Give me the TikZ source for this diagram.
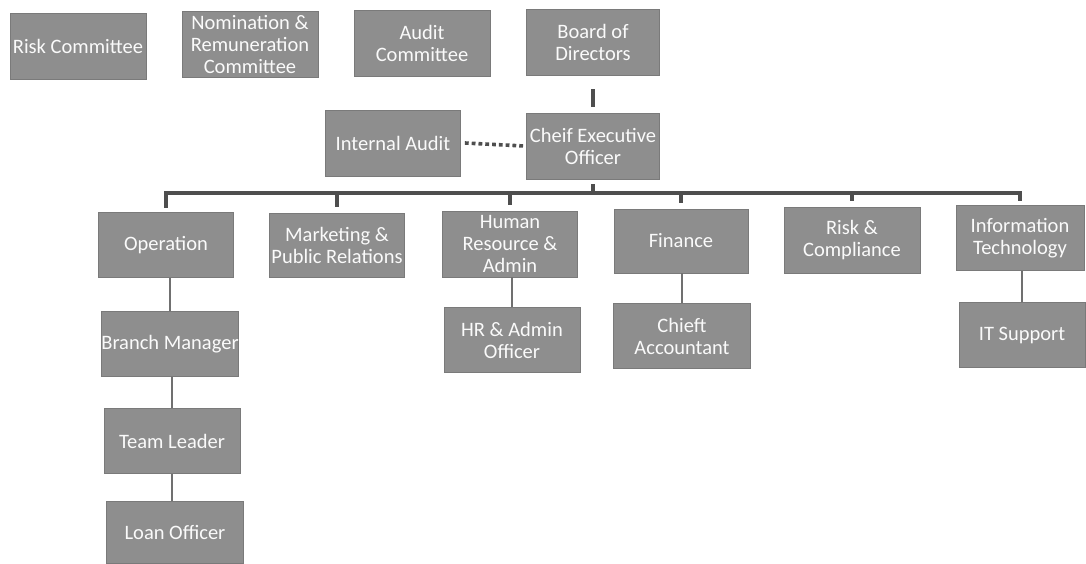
\documentclass[tikz,border=0pt]{standalone}
\usepackage{fontspec}
\setmainfont{Carlito}
\definecolor{boxgray}{HTML}{8E8E8E}
\definecolor{boxedge}{HTML}{7A7A7A}
\definecolor{linedark}{HTML}{4E4E4E}
\definecolor{linethin}{HTML}{707070}
\tikzset{
  orgbox/.style={fill=boxgray, draw=boxedge, line width=0.8pt, text=white!96!gray,
    font=\fontsize{20.5}{22}\selectfont, align=center, inner sep=0pt,
    minimum width=136pt, minimum height=66pt},
  thickline/.style={draw=linedark, line width=3.6pt},
  thinline/.style={draw=linethin, line width=1.4pt},
  dotline/.style={draw=linedark, line width=3.6pt, dash pattern=on 3.8pt off 3pt}
}
\begin{document}
\begin{tikzpicture}[x=1pt,y=-1pt]
\useasboundingbox (0,0) rectangle (1086,563);
\node[orgbox] (risk) at (78,46) {Risk Committee};
\node[orgbox] (nom) at (250,44) {Nomination \&\\Remuneration\\Committee};
\node[orgbox] (audit) at (422,43) {Audit\\Committee};
\node[orgbox, minimum width=133pt] (board) at (593,42) {Board of\\Directors};
\node[orgbox, minimum width=133pt] (ceo) at (593,146) {Cheif Executive\\Officer};
\node[orgbox, minimum width=135pt] (ia) at (393,143) {Internal Audit};
\node[orgbox, minimum width=135pt, minimum height=65pt] (op) at (166,245) {Operation};
\node[orgbox, minimum width=135pt, minimum height=64pt] (mkt) at (337,245) {Marketing \&\\Public Relations};
\node[orgbox, minimum width=135pt] (hr) at (510,244) {Human\\Resource \&\\Admin};
\node[orgbox, minimum width=134pt, minimum height=64pt] (fin) at (681,241) {Finance};
\node[orgbox] (rc) at (852,240) {Risk \&\\Compliance};
\node[orgbox, minimum width=128pt, minimum height=65pt] (it) at (1020,238) {Information\\Technology};
\node[orgbox, minimum width=135pt, minimum height=65pt] (bm) at (170,344) {Branch Manager};
\node[orgbox, minimum height=65pt] (hro) at (512,340) {HR \& Admin\\Officer};
\node[orgbox, minimum width=137pt, minimum height=65pt] (ca) at (682,336) {Chieft\\Accountant};
\node[orgbox, minimum width=126pt, minimum height=65pt] (its) at (1022,335) {IT Support};
\node[orgbox, minimum height=65pt] (tl) at (172,441) {Team Leader};
\node[orgbox, minimum width=137pt, minimum height=62pt] (lo) at (175,532) {Loan Officer};
% connectors
\coordinate (bus) at (593,193);
\draw[thickline] ([yshift=-14pt]board.south) -- ([yshift=6pt]ceo.north);
\draw[thickline] ([yshift=-5pt]ceo.south) -- (ceo.south |- bus);
\draw[thickline, line cap=rect] ([yshift=6pt]op.north) -- (op.north |- bus) -- (it.north |- bus) -- ([yshift=6pt]it.north);
\foreach \n in {mkt,hr,fin,rc}{
  \draw[thickline] (\n.north |- bus) -- ([yshift=6pt]\n.north);
}
\draw[dotline] ([xshift=4pt]ia.east) -- ([xshift=-2pt]ceo.west);
\draw[thinline] (bm.north) -- (bm.north |- op.south);
\draw[thinline] (tl.north) -- (tl.north |- bm.south);
\draw[thinline] (lo.north -| tl.south) -- (tl.south);
\draw[thinline] (hro.north) -- (hro.north |- hr.south);
\draw[thinline] (ca.north) -- (ca.north |- fin.south);
\draw[thinline] (its.north) -- (its.north |- it.south);
\end{tikzpicture}
\end{document}
